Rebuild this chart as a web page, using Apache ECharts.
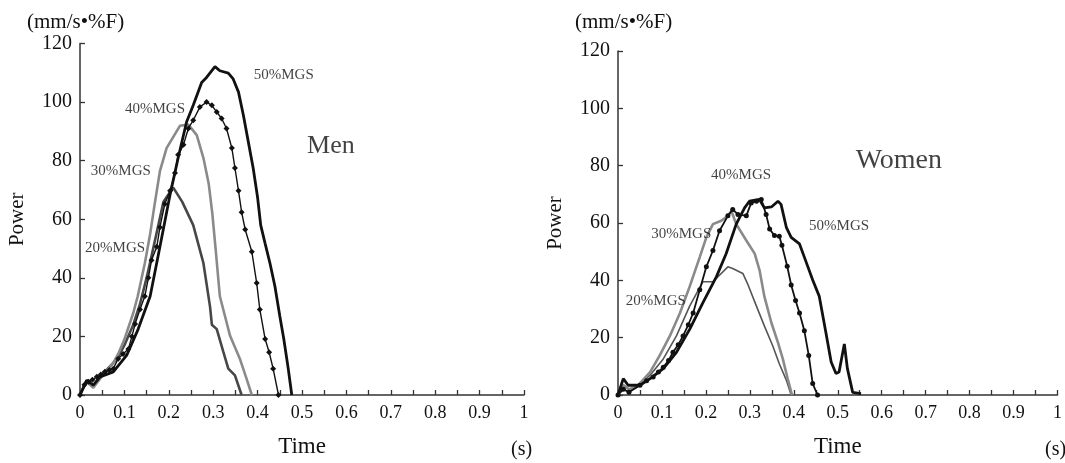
<!DOCTYPE html>
<html>
<head>
<meta charset="utf-8">
<script src="https://cdn.jsdelivr.net/npm/echarts@6/dist/echarts.min.js"></script>
<style>
html,body{margin:0;padding:0;background:#fff;}
#c{width:1065px;height:463px;}
</style>
</head>
<body>
<div id="c"></div>
<script>
// ---------- DATA (time in s, power in mm/s·%F) ----------
const xTicks = [0,0.1,0.2,0.3,0.4,0.5,0.6,0.7,0.8,0.9,1];
const yTicks = [0,20,40,60,80,100,120];

// Men
const men20 = [[0,0],[0.015,5],[0.03,3],[0.05,7],[0.075,11],[0.086,13],[0.1,17],[0.12,24],[0.135,31],[0.15,40],[0.162,48],[0.175,57],[0.188,66],[0.21,70.8],[0.23,66],[0.255,58],[0.278,45],[0.293,30],[0.297,24],[0.308,22.5],[0.323,14.6],[0.334,9],[0.349,6.7],[0.364,0]];
const men30 = [[0,0],[0.015,4.5],[0.03,2.5],[0.05,6.5],[0.075,11],[0.086,14],[0.1,19],[0.12,28],[0.13,33.7],[0.146,45],[0.158,55],[0.168,65],[0.18,76.4],[0.195,84.3],[0.225,91.9],[0.244,92.3],[0.263,88.7],[0.278,80.9],[0.29,72],[0.298,62],[0.305,50.6],[0.315,33.7],[0.338,20.2],[0.36,12.4],[0.375,5.6],[0.387,0]];
const men40 = [[0,0],[0.01,3.5],[0.019,4.5],[0.028,5.2],[0.038,6.2],[0.047,7],[0.056,7.9],[0.066,8.5],[0.075,9],[0.086,12.4],[0.097,14],[0.109,15.7],[0.117,20],[0.124,24.2],[0.135,29.2],[0.146,33.7],[0.154,40],[0.161,46],[0.173,50.6],[0.18,57.3],[0.191,65.2],[0.203,69.7],[0.214,75.8],[0.221,82],[0.233,85.4],[0.244,91],[0.255,93.8],[0.27,98.3],[0.285,100],[0.297,98.9],[0.308,96.6],[0.319,94.4],[0.33,91],[0.342,84.3],[0.349,77.5],[0.357,69.7],[0.364,62.4],[0.372,56.5],[0.387,48.9],[0.398,38.2],[0.405,29.2],[0.417,19.1],[0.426,14.6],[0.435,9],[0.447,0]];
const men50 = [[0,0],[0.015,5],[0.03,3.4],[0.045,6.2],[0.075,7.9],[0.105,13.5],[0.131,22.5],[0.158,33.7],[0.18,50.6],[0.203,68.5],[0.221,80.9],[0.24,93.2],[0.255,98.9],[0.274,106.7],[0.285,108.4],[0.304,112.1],[0.315,110.7],[0.334,109.9],[0.345,107.9],[0.357,103.4],[0.368,95.5],[0.379,86.5],[0.39,77.5],[0.4,67.4],[0.407,58],[0.417,51.7],[0.428,44.9],[0.439,37.1],[0.45,27],[0.459,19.1],[0.469,9],[0.477,0]];

// Women
const women20 = [[0,0],[0.012,3],[0.025,2],[0.042,2.9],[0.073,6.9],[0.103,12.6],[0.133,20.6],[0.163,31],[0.193,39.5],[0.216,39.5],[0.25,44.7],[0.261,44.1],[0.284,42.4],[0.296,38.4],[0.315,31],[0.333,24.1],[0.352,17.2],[0.367,10.9],[0.383,5.2],[0.394,0]];
const women30 = [[0,0],[0.012,3.5],[0.025,2],[0.043,2.9],[0.073,8],[0.095,13.8],[0.118,20.6],[0.141,28.6],[0.163,37.8],[0.186,48.1],[0.201,55],[0.216,59.6],[0.235,60.8],[0.25,62.5],[0.258,64.2],[0.269,59.6],[0.292,53.9],[0.311,49.3],[0.322,43.6],[0.333,34.4],[0.349,25.2],[0.364,18.3],[0.375,12.6],[0.386,5.7],[0.396,0]];
const women40 = [[0,0],[0.012,2],[0.025,1],[0.05,3.4],[0.065,5],[0.08,6.3],[0.092,8],[0.103,9.7],[0.115,12],[0.125,14.9],[0.137,17.5],[0.148,20.6],[0.16,24.5],[0.171,28.6],[0.186,36.7],[0.201,44.7],[0.216,50.4],[0.231,57.3],[0.25,62.5],[0.261,64.7],[0.273,63],[0.292,62.5],[0.303,67],[0.315,67.6],[0.326,68.2],[0.337,63],[0.345,57.9],[0.356,55.6],[0.367,55.4],[0.373,52.2],[0.385,44.9],[0.394,38.4],[0.404,33],[0.413,28.6],[0.424,22.4],[0.434,13.8],[0.443,4],[0.454,0]];
const women50 = [[0,0],[0.012,5.7],[0.023,3.4],[0.05,3.4],[0.073,5.7],[0.103,9.2],[0.133,14.9],[0.163,22.9],[0.193,32.1],[0.224,41.3],[0.246,49.3],[0.269,59.6],[0.288,65.3],[0.299,67.6],[0.322,68.2],[0.333,65.3],[0.349,65.6],[0.364,67.6],[0.371,66.5],[0.383,58.5],[0.394,55],[0.413,52.7],[0.424,48.1],[0.443,40.1],[0.458,34.4],[0.473,21.8],[0.485,11.5],[0.496,7.5],[0.503,8],[0.515,17.8],[0.522,9.2],[0.534,0.9],[0.553,0.5]];

// Annotations [time, power, text]
const menLabels = [[0.459,109.2,'50%MGS'],[0.169,97.7,'40%MGS'],[0.092,76.5,'30%MGS'],[0.079,50.2,'20%MGS']];
const menTitle = [[0.565,84.9,'Men']];
const womenLabels = [[0.28,76.7,'40%MGS'],[0.144,56.2,'30%MGS'],[0.086,32.7,'20%MGS'],[0.503,58.8,'50%MGS']];
const womenTitle = [[0.639,81.8,'Women']];

// ---------- CHART ----------
const SERIF = '"Liberation Serif","DejaVu Serif",serif';
const chart = echarts.init(document.getElementById('c'), null, {renderer:'canvas'});

function xAxis(gi){
  return {
    gridIndex: gi, type:'value', min:0, max:1, interval:0.1,
    name:'Time', nameLocation:'middle', nameGap:40,
    nameTextStyle:{fontFamily:SERIF, fontSize:23, color:'#111'},
    axisLine:{lineStyle:{color:'#333', width:1.5}},
    axisTick:{inside:true, length:5, lineStyle:{color:'#333', width:1.3}},
    minorTick:{show:true, splitNumber:2, length:5, lineStyle:{color:'#333', width:1.3}},
    splitLine:{show:false}, minorSplitLine:{show:false},
    axisLabel:{fontFamily:SERIF, fontSize:18, color:'#111', margin:9,
      formatter:v=>String(Math.round(v*10)/10)}
  };
}
function yAxis(gi){
  return {
    gridIndex: gi, type:'value', min:0, max:120, interval:20,
    name:'Power', nameLocation:'middle', nameGap:52, nameRotate:90,
    nameTextStyle:{fontFamily:SERIF, fontSize:21, color:'#111'},
    axisLine:{show:true, lineStyle:{color:'#333', width:1.5}},
    axisTick:{show:true, inside:true, length:5, lineStyle:{color:'#333', width:1.3}},
    splitLine:{show:false},
    axisLabel:{fontFamily:SERIF, fontSize:20, color:'#111', margin:8}
  };
}
function line(gi, data, color, width, symbol, symbolSize){
  return {
    type:'line', xAxisIndex:gi, yAxisIndex:gi, data:data,
    lineStyle:{color:color, width:width}, itemStyle:{color:color},
    symbol: symbol || 'none', symbolSize: symbolSize || 0, showSymbol: !!symbol,
    smooth:false, animation:false, z: 3
  };
}
function labels(gi, arr, size){
  return {
    type:'scatter', xAxisIndex:gi, yAxisIndex:gi, symbolSize:0, animation:false, silent:true, z:5,
    data: arr.map(a=>({value:[a[0],a[1]], name:a[2]})),
    label:{show:true, position:'inside', formatter:p=>p.name,
      fontFamily:SERIF, fontSize:size, color:'#111'}
  };
}

chart.setOption({
  backgroundColor:'#fff',
  animation:false,
  grid:[
    {left:80, right:541, top:43.5, bottom:63, containLabel:false},
    {left:618, right:6, top:51, bottom:63, containLabel:false}
  ],
  xAxis:[xAxis(0), xAxis(1)],
  yAxis:[yAxis(0), yAxis(1)],
  graphic:[
    {type:'text', left:27, top:12, style:{text:'(mm/s•%F)', font:'21px '+SERIF, fill:'#111'}},
    {type:'text', left:575, top:12, style:{text:'(mm/s•%F)', font:'21px '+SERIF, fill:'#111'}},
    {type:'text', left:511, top:440, style:{text:'(s)', font:'20px '+SERIF, fill:'#111'}},
    {type:'text', left:1045, top:440, style:{text:'(s)', font:'20px '+SERIF, fill:'#111'}}
  ],
  series:[
    line(0, men20, '#474747', 2.6),
    line(0, men30, '#8a8a8a', 2.6),
    line(0, men40, '#111', 1.4, 'diamond', 6),
    line(0, men50, '#111', 2.8),
    labels(0, menLabels, 15),
    labels(0, menTitle, 26),
    line(1, women20, '#555', 1.6),
    line(1, women30, '#8a8a8a', 2.6),
    line(1, women40, '#111', 1.8, 'circle', 5),
    line(1, women50, '#111', 2.8),
    labels(1, womenLabels, 15),
    labels(1, womenTitle, 28)
  ]
});
</script>
</body>
</html>
